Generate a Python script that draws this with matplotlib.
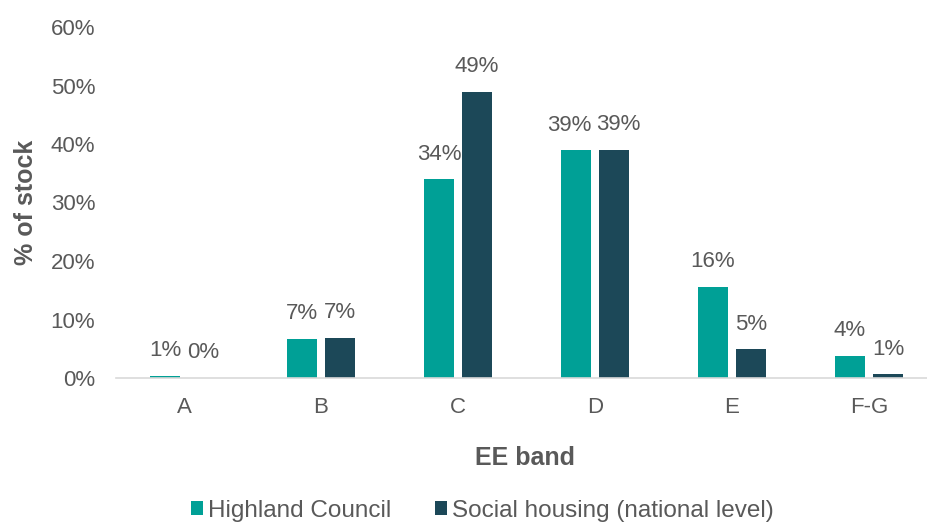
import matplotlib.pyplot as plt
import numpy as np

bands = ['A', 'B', 'C', 'D', 'E', 'F-G']
highland = [0.4, 6.7, 34.0, 38.9, 15.6, 3.8]
national = [0.0, 6.9, 48.9, 39.0, 4.9, 0.6]
highland_labels = ['1%', '7%', '34%', '39%', '16%', '4%']
national_labels = ['0%', '7%', '49%', '39%', '5%', '1%']

teal = '#00A096'
navy = '#1C4858'
grey = '#595959'

plt.rcParams['font.family'] = ['Liberation Sans', 'DejaVu Sans']

fig = plt.figure(figsize=(9.28, 5.25), dpi=100)
ax = fig.add_axes([115.5 / 928, 1 - 378 / 525, 822 / 928, 351 / 525])

x = np.arange(len(bands))
w = 0.22
off = 0.139
b1 = ax.bar(x - off, highland, w, color=teal, label='Highland Council')
b2 = ax.bar(x + off, national, w, color=navy, label='Social housing (national level)')

# value labels above each bar; the D pair is nudged apart like in the original
nudge = {(0, 3): -4.5, (1, 3): 3}
for s, (bars, labels) in enumerate([(b1, highland_labels), (b2, national_labels)]):
    for i, (bar, lab) in enumerate(zip(bars, labels)):
        ax.annotate(lab, (bar.get_x() + bar.get_width() / 2, bar.get_height()),
                    xytext=(nudge.get((s, i), 0), 18), textcoords='offset points',
                    ha='center', va='center', fontsize=16, color=grey)

ax.set_xlim(-0.5, len(bands) - 0.5)
ax.set_ylim(0, 60)
ax.set_yticks(range(0, 61, 10))
ax.set_yticklabels([f'{v}%' for v in range(0, 61, 10)])
ax.set_xticks(x)
ax.set_xticklabels(bands)
ax.tick_params(length=0, labelsize=16, labelcolor=grey)
ax.tick_params(axis='y', pad=14.5)
ax.tick_params(axis='x', pad=14)

for s in ['top', 'right', 'left']:
    ax.spines[s].set_visible(False)
ax.spines['bottom'].set_color('#D9D9D9')
ax.spines['bottom'].set_linewidth(1.2)

ax.set_ylabel('% of stock', fontsize=18, fontweight='bold', color=grey)
ax.yaxis.set_label_coords((38 - 115.5) / 822, 0.5)
ax.set_xlabel('EE band', fontsize=18, fontweight='bold', color=grey)
ax.xaxis.set_label_coords((525 - 115.5) / 822, -(446 - 378) / 351)

fig.legend(handles=[b1, b2], loc='center', bbox_to_anchor=(482 / 928, 1 - 511 / 525),
           ncol=2, frameon=False, fontsize=17.5, labelcolor=grey,
           handlelength=0.5, handleheight=0.5, handletextpad=0.2, columnspacing=1.8)

fig.savefig('out.png', dpi=100)
